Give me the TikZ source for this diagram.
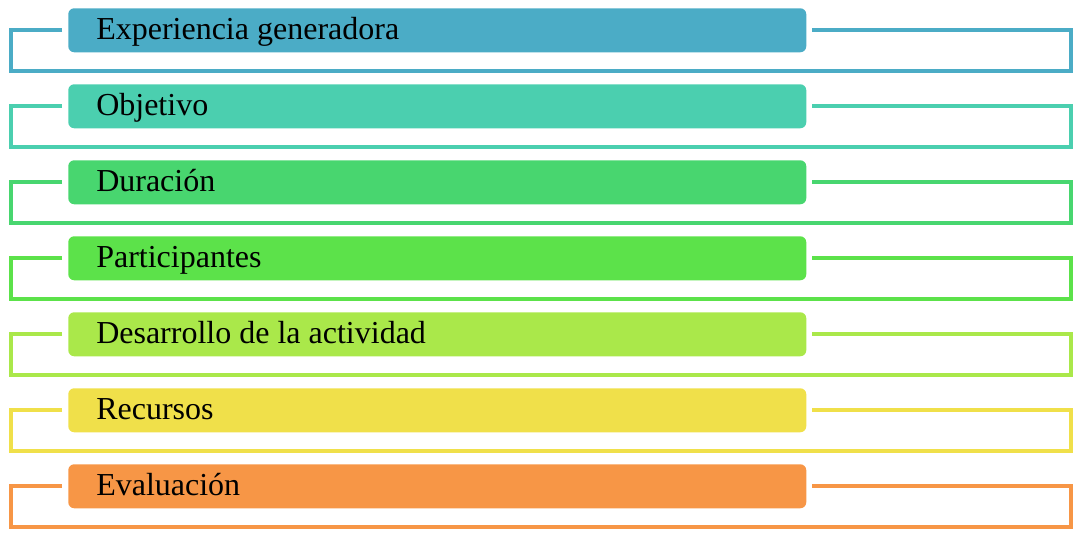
\documentclass[tikz,border=0pt]{standalone}
\usepackage{fontspec}
\setmainfont{Liberation Serif}
\definecolor{c1}{HTML}{4BACC6}
\definecolor{c2}{HTML}{4BCFAF}
\definecolor{c3}{HTML}{48D66F}
\definecolor{c4}{HTML}{5CE24A}
\definecolor{c5}{HTML}{AAE84A}
\definecolor{c6}{HTML}{F0E04A}
\definecolor{c7}{HTML}{F79646}
\tikzset{
  labelbox/.style={rounded corners=4.5pt, minimum width=553.5pt, minimum height=33pt, inner sep=0pt, anchor=north west},
  labeltext/.style={font=\fontsize{24}{28}\selectfont, anchor=base west, inner sep=0pt},
  frame/.style={line width=3.6pt}
}
\begin{document}
\begin{tikzpicture}[x=0.75pt,y=-0.75pt]
\useasboundingbox (0,0) rectangle (1074,532);
\foreach \i/\t in {1/Experiencia generadora,2/Objetivo,3/Duración,4/Participantes,5/Desarrollo de la actividad,6/Recursos,7/Evaluación}{
  \pgfmathsetmacro{\top}{8+76*(\i-1)}
  \coordinate (tl\i) at (62,\top+22);
  \coordinate (tr\i) at (812,\top+22);
  \draw[frame, c\i] (tl\i) -- (11,\top+22) -- (11,\top+63) -- (1071,\top+63) -- (1071,\top+22) -- (tr\i);
  \node[labelbox, fill=c\i] (b\i) at (68,\top) {};
  \node[labeltext] (t\i) at (96,\top+31) {\t};
}
\end{tikzpicture}
\end{document}
